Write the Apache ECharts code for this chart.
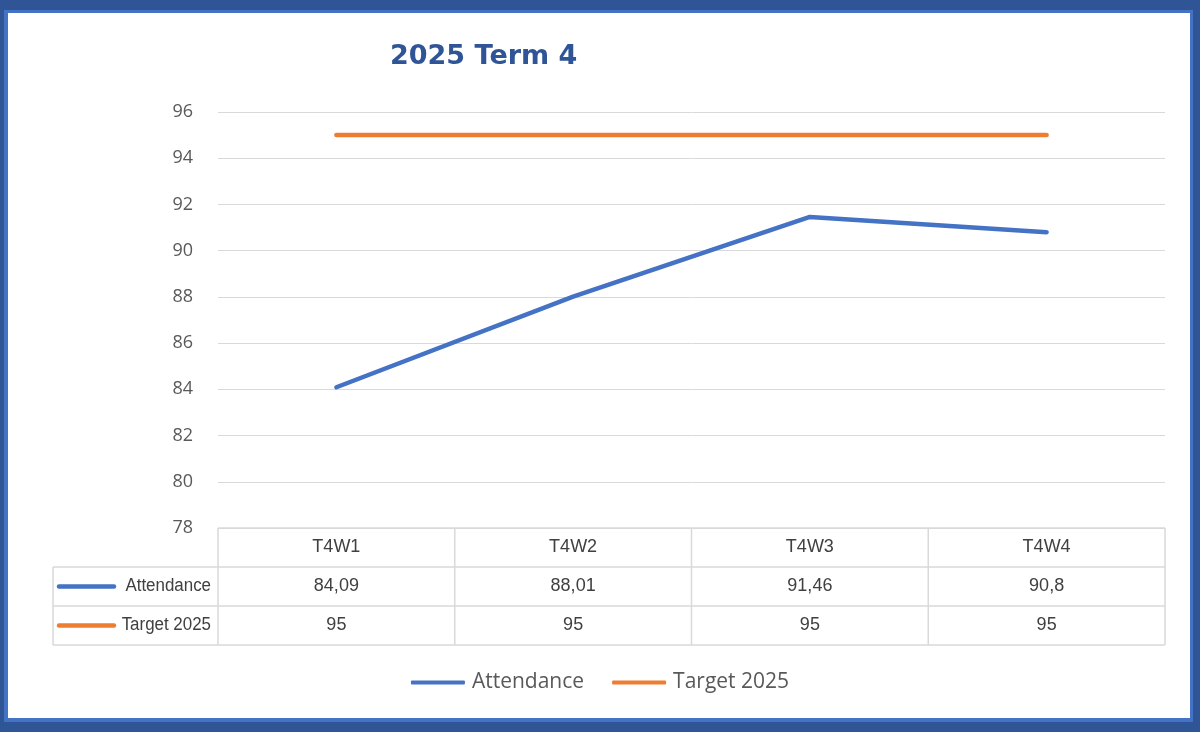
<!DOCTYPE html>
<html><head><meta charset="utf-8">
<script src="https://cdn.jsdelivr.net/npm/echarts@6/dist/echarts.min.js"></script>
<style>
html,body{margin:0;padding:0;width:1200px;height:732px;overflow:hidden;}
#f1{position:absolute;left:0;top:0;width:1200px;height:732px;background:#2F5597;}
#f2{position:absolute;left:4px;top:10px;width:1189px;height:712px;background:#4472C4;}
#f3{position:absolute;left:8px;top:13px;width:1182px;height:705px;background:#ffffff;}
#chart{position:absolute;left:0;top:0;width:1200px;height:732px;}
</style></head>
<body>
<div id="f1"></div><div id="f2"></div><div id="f3"></div>
<div id="chart"></div>
<script>
const categories = ['T4W1', 'T4W2', 'T4W3', 'T4W4'];
const attendance = [84.09, 88.01, 91.46, 90.8];
const target2025 = [95, 95, 95, 95];
const seriesNames = ['Attendance', 'Target 2025'];
const yTicks = [78, 80, 82, 84, 86, 88, 90, 92, 94, 96];
const colors = ['#4472C4', '#ED7D31'];

const GRID = {left: 218, right: 35, top: 112, bottom: 204};
const ROW_H = 39;
const TABLE_LEFT = 53;
const chart = echarts.init(document.getElementById('chart'));
const fmt = v => String(v).replace('.', ',');

chart.setOption({
  animation: false,
  title: {text: '2025 Term 4', left: 385, top: 38,
    textStyle: {color: '#2F5597', fontSize: 27, fontWeight: 'bold', fontFamily: 'DejaVu Sans, sans-serif'}},
  legend: {bottom: 34, left: 'center', itemWidth: 54, itemHeight: 4, itemGap: 28,
    icon: 'roundRect',
    textStyle: {color: '#595959', fontSize: 21, fontFamily: 'Open Sans, sans-serif', padding: [0,0,0,2]},
    data: seriesNames},
  grid: GRID,
  xAxis: {type: 'category', data: categories, boundaryGap: true,
    axisLine: {show: false}, axisTick: {show: false}, axisLabel: {show: false}},
  yAxis: {type: 'value', min: yTicks[0], max: yTicks[yTicks.length-1], interval: 2,
    axisLine: {show: false}, axisTick: {show: false},
    axisLabel: {color: '#595959', fontSize: 18, margin: 25, fontFamily: 'Open Sans, sans-serif'},
    splitLine: {lineStyle: {color: '#D9D9D9', width: 1}}},
  series: [
    {name: seriesNames[0], type: 'line', data: attendance, showSymbol: false, symbol: 'none',
      lineStyle: {color: colors[0], width: 4.5, cap: 'round'}, itemStyle: {color: colors[0]}},
    {name: seriesNames[1], type: 'line', data: target2025, showSymbol: false, symbol: 'none',
      lineStyle: {color: colors[1], width: 4.5, cap: 'round'}, itemStyle: {color: colors[1]}}
  ]
});

// Data table built from the arrays
const W = 1200, H = 732;
const x0 = GRID.left, x1 = W - GRID.right, y0 = H - GRID.bottom;
const colW = (x1 - x0) / categories.length;
const rows = [attendance, target2025];
const els = [];
const lineStyle = {stroke: '#D9D9D9', lineWidth: 1.5};
const textFont = 'Liberation Sans, sans-serif';
const textStyle = (t, align) => ({text: t, fill: '#404040', font: '18px ' + textFont, align: align, verticalAlign: 'middle'});
// horizontal lines
els.push({type: 'line', shape: {x1: x0, y1: y0, x2: x1, y2: y0}, style: lineStyle, silent: true});
for (let r = 1; r <= rows.length + 1; r++) {
  const y = y0 + r * ROW_H;
  els.push({type: 'line', shape: {x1: TABLE_LEFT, y1: y, x2: x1, y2: y}, style: lineStyle, silent: true});
}
// vertical lines
els.push({type: 'line', shape: {x1: TABLE_LEFT, y1: y0 + ROW_H, x2: TABLE_LEFT, y2: y0 + ROW_H * (rows.length + 1)}, style: lineStyle, silent: true});
for (let c = 0; c <= categories.length; c++) {
  const x = x0 + c * colW;
  els.push({type: 'line', shape: {x1: x, y1: y0, x2: x, y2: y0 + ROW_H * (rows.length + 1)}, style: lineStyle, silent: true});
}
// header
categories.forEach((cat, i) => {
  const cx = chart.convertToPixel({xAxisIndex: 0}, cat);
  els.push({type: 'text', x: cx, y: y0 + ROW_H / 2, silent: true, style: textStyle(cat, 'center')});
});
// rows
rows.forEach((vals, r) => {
  const yc = y0 + ROW_H * (r + 1) + ROW_H / 2;
  els.push({type: 'line', shape: {x1: 59, y1: yc, x2: 114, y2: yc}, silent: true,
    style: {stroke: colors[r], lineWidth: 4.5, lineCap: 'round'}});
  els.push({type: 'text', x: x0 - 7, y: yc, scaleX: 0.94, silent: true, style: textStyle(seriesNames[r], 'right')});
  vals.forEach((v, i) => {
    const cx = chart.convertToPixel({xAxisIndex: 0}, categories[i]);
    els.push({type: 'text', x: cx, y: yc, silent: true, style: textStyle(fmt(v), 'center')});
  });
});
chart.setOption({graphic: {elements: els}});
</script>
</body></html>
